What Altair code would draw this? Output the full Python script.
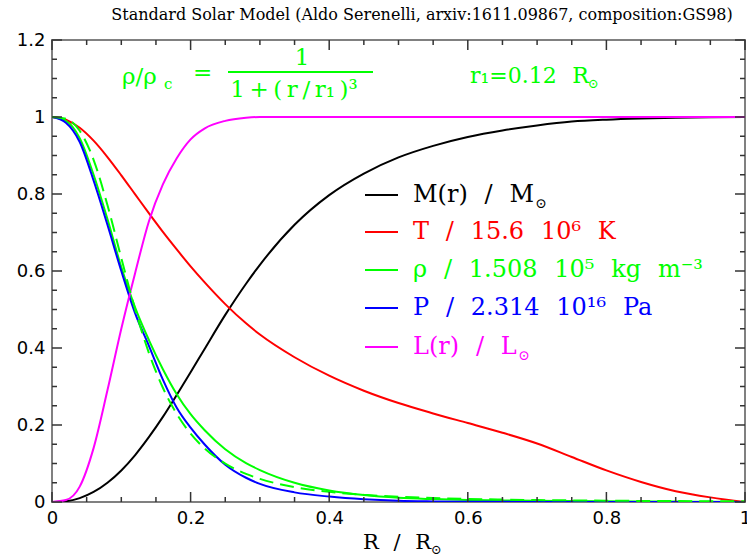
import altair as alt
import pandas as pd

# ---------------- data ----------------
r = [0, 0.02, 0.04, 0.06, 0.08, 0.10, 0.12, 0.14, 0.16, 0.18, 0.20, 0.22, 0.25, 0.28, 0.30,
     0.35, 0.40, 0.45, 0.50, 0.55, 0.60, 0.65, 0.70, 0.75, 0.80, 0.85, 0.90, 0.95, 1.00]
mass = [0, 0.002, 0.010, 0.026, 0.050, 0.082, 0.122, 0.169, 0.221, 0.278, 0.337, 0.397, 0.486, 0.567, 0.616,
        0.720, 0.797, 0.853, 0.895, 0.925, 0.948, 0.965, 0.978, 0.988, 0.993, 0.996, 0.998, 0.9995, 1.000]
temp = [1.000, 0.993, 0.972, 0.9385, 0.896, 0.8485, 0.799, 0.7495, 0.7015, 0.656, 0.612, 0.571, 0.514, 0.464,
        0.435, 0.376, 0.328, 0.289, 0.257, 0.230, 0.205, 0.180, 0.152, 0.117, 0.082, 0.052, 0.028, 0.012, 0.0]
rho = [1.000, 0.990, 0.945, 0.850, 0.735, 0.610, 0.505, 0.420, 0.345, 0.280, 0.228, 0.187, 0.137, 0.101, 0.083,
       0.050, 0.030, 0.018, 0.011, 0.0075, 0.005, 0.004, 0.003, 0.0025, 0.002, 0.0015, 0.001, 0.0007, 0.0]
pres = [1.000, 0.985, 0.935, 0.835, 0.720, 0.600, 0.490, 0.405, 0.318, 0.245, 0.193, 0.150, 0.097, 0.063, 0.047,
        0.025, 0.014, 0.007, 0.003, 0.0015, 0.0008, 0.0004, 0.0002, 0.0001, 0, 0, 0, 0, 0]
lum = [0, 0.005, 0.040, 0.140, 0.290, 0.450, 0.595, 0.730, 0.825, 0.893, 0.942, 0.970, 0.990, 0.998, 1.0,
       1.0, 1.0, 1.0, 1.0, 1.0, 1.0, 1.0, 1.0, 1.0, 1.0, 1.0, 1.0, 1.0, 1.0]
rho_fit = [1.0, 0.9954, 0.9643, 0.8889, 0.7714, 0.6334, 0.5000, 0.3864, 0.2967, 0.2286, 0.1776, 0.1396, 0.0996,
           0.0730, 0.0601, 0.0387, 0.0263, 0.0186, 0.0136, 0.0103, 0.0079, 0.0063, 0.0050, 0.0041, 0.0034,
           0.0028, 0.0024, 0.0020, 0.0017]

x_major = [0, 0.2, 0.4, 0.6, 0.8, 1.0]
x_minor = [0.05, 0.1, 0.15, 0.25, 0.3, 0.35, 0.45, 0.5, 0.55, 0.65, 0.7, 0.75, 0.85, 0.9, 0.95]
y_major = [0, 0.2, 0.4, 0.6, 0.8, 1.0, 1.2]
y_minor = [0.05, 0.1, 0.15, 0.25, 0.3, 0.35, 0.45, 0.5, 0.55, 0.65, 0.7, 0.75, 0.85, 0.9, 0.95,
           1.05, 1.1, 1.15]

title_text = "Standard Solar Model (Aldo Serenelli, arxiv:1611.09867, composition:GS98)"
S = "\u2002\u2009"  # wide space (en + thin)
T = "\u2009"        # thin space
legend_labels = ["M(r)" + S + "/" + S + "M",
                 "T" + S + "/" + S + "15.6" + S + "10\u2076" + S + "K",
                 "\u03c1" + S + "/" + S + "1.508" + S + "10\u2075" + S + "kg" + S + "m\u207b\u00b3",
                 "P" + S + "/" + S + "2.314" + S + "10\u00b9\u2076" + S + "Pa",
                 "L(r)" + S + "/" + S + "L"]
legend_colors = ["#000000", "#ff0000", "#00ff00", "#0000ff", "#ff00ff"]

W, H = 693, 462
GREEN = "#00ff00"

xs = alt.Scale(domain=[0, 1], nice=False, zero=False)
ys = alt.Scale(domain=[0, 1.2], nice=False, zero=False)
ax_x = alt.Axis(values=x_major, format="~g", title=None, domain=False, ticks=False, tickSize=0, grid=False,
                labelPadding=7, labelFont="DejaVu Sans", labelFontSize=18, labelColor="#000000",
                labelFlush=False)
ax_y = alt.Axis(values=y_major, format="~g", title=None, domain=False, ticks=False, tickSize=0, grid=False,
                labelPadding=7, labelFont="DejaVu Sans", labelFontSize=18, labelColor="#000000",
                labelFlush=False)

# ---------------- curves ----------------
def curve(vals, color, dash=None):
    df = pd.DataFrame({"r": r, "v": vals})
    kw = dict(color=color, strokeWidth=2, interpolate="monotone", clip=True)
    if dash:
        kw["strokeDash"] = dash
    return alt.Chart(df).mark_line(**kw).encode(
        x=alt.X("r:Q", scale=xs, axis=ax_x), y=alt.Y("v:Q", scale=ys, axis=ax_y))

layers = [
    curve(mass, "#000000"),
    curve(temp, "#ff0000"),
    curve(rho, GREEN),
    curve(pres, "#0000ff"),
    curve(lum, "#ff00ff"),
    curve(rho_fit, GREEN, dash=[14, 7]),
]

# ---------------- inward ticks on all four sides ----------------
TICK = "#333333"
def xticks(vals, length):
    df = pd.DataFrame({"r": vals})
    base = alt.Chart(df).mark_rule(color=TICK, strokeWidth=1.5)
    bottom = base.encode(x=alt.X("r:Q", scale=xs, axis=ax_x), y=alt.value(H), y2=alt.value(H - length))
    top = base.encode(x=alt.X("r:Q", scale=xs, axis=ax_x), y=alt.value(0), y2=alt.value(length))
    return [bottom, top]

def yticks(vals, length):
    df = pd.DataFrame({"v": vals})
    base = alt.Chart(df).mark_rule(color=TICK, strokeWidth=1.5)
    left = base.encode(y=alt.Y("v:Q", scale=ys, axis=ax_y), x=alt.value(0), x2=alt.value(length))
    right = base.encode(y=alt.Y("v:Q", scale=ys, axis=ax_y), x=alt.value(W), x2=alt.value(W - length))
    return [left, right]

layers += xticks(x_major, 10) + xticks(x_minor, 5) + yticks(y_major, 10) + yticks(y_minor, 5)

# ---------------- text helpers ----------------
def text(s, x, y, color="#000000", size=20, font="DejaVu Serif", align="left", baseline="middle", style="normal"):
    return alt.Chart(pd.DataFrame({"s": [s]})).mark_text(
        align=align, baseline=baseline, font=font, fontSize=size, color=color, fontStyle=style
    ).encode(x=alt.value(x), y=alt.value(y), text="s:N")

def seg(x1, x2, y, color, width=2):
    return alt.Chart(pd.DataFrame({"s": [0]})).mark_rule(color=color, strokeWidth=width).encode(
        x=alt.value(x1), x2=alt.value(x2), y=alt.value(y))

# title
layers.append(text(title_text, 370, -25, size=16, align="center"))

# x-axis title  R / R_sun
layers.append(text("R" + S + "/" + S + "R", 311, 503, size=21))
layers.append(text("\u2299", 379, 510, size=13))

# legend
row_y = [155, 192, 230, 268, 307]
for i, (lab, col) in enumerate(zip(legend_labels, legend_colors)):
    layers.append(seg(313, 346, row_y[i], col))
    layers.append(text(lab, 361, row_y[i], color=col, size=24))
layers.append(text("\u2299", 483, row_y[0] + 9, color="#000000", size=14))
layers.append(text("\u2299", 466, row_y[4] + 9, color="#ff00ff", size=14))

# density formula
layers.append(text("\u03c1/\u03c1", 70, 37, color=GREEN, size=23))
layers.append(text("c", 112, 44, color=GREEN, size=15))
layers.append(text("=", 141, 33, color=GREEN, size=23))
layers.append(text("1", 250, 18, color=GREEN, size=23, align="center"))
layers.append(seg(176, 321, 32, GREEN, width=2))
layers.append(text("1" + T + "+" + T + "(" + T + "r" + T + "/" + T + "r\u2081" + T + ")\u00b3",
                   242, 50, color=GREEN, size=23, align="center"))
layers.append(text("r\u2081=0.12" + S + "R", 418, 36, color=GREEN, size=22))
layers.append(text("\u2299", 536, 44, color=GREEN, size=13))

chart = alt.layer(*layers).properties(
    width=W, height=H,
    autosize=alt.AutoSizeParams(type="none"),
    padding={"left": 52, "top": 40, "right": 2, "bottom": 54},
    background="#ffffff",
).configure_view(stroke="#808080", strokeWidth=2)

chart.save("out.html", embed_options={"renderer": "svg", "actions": False})
